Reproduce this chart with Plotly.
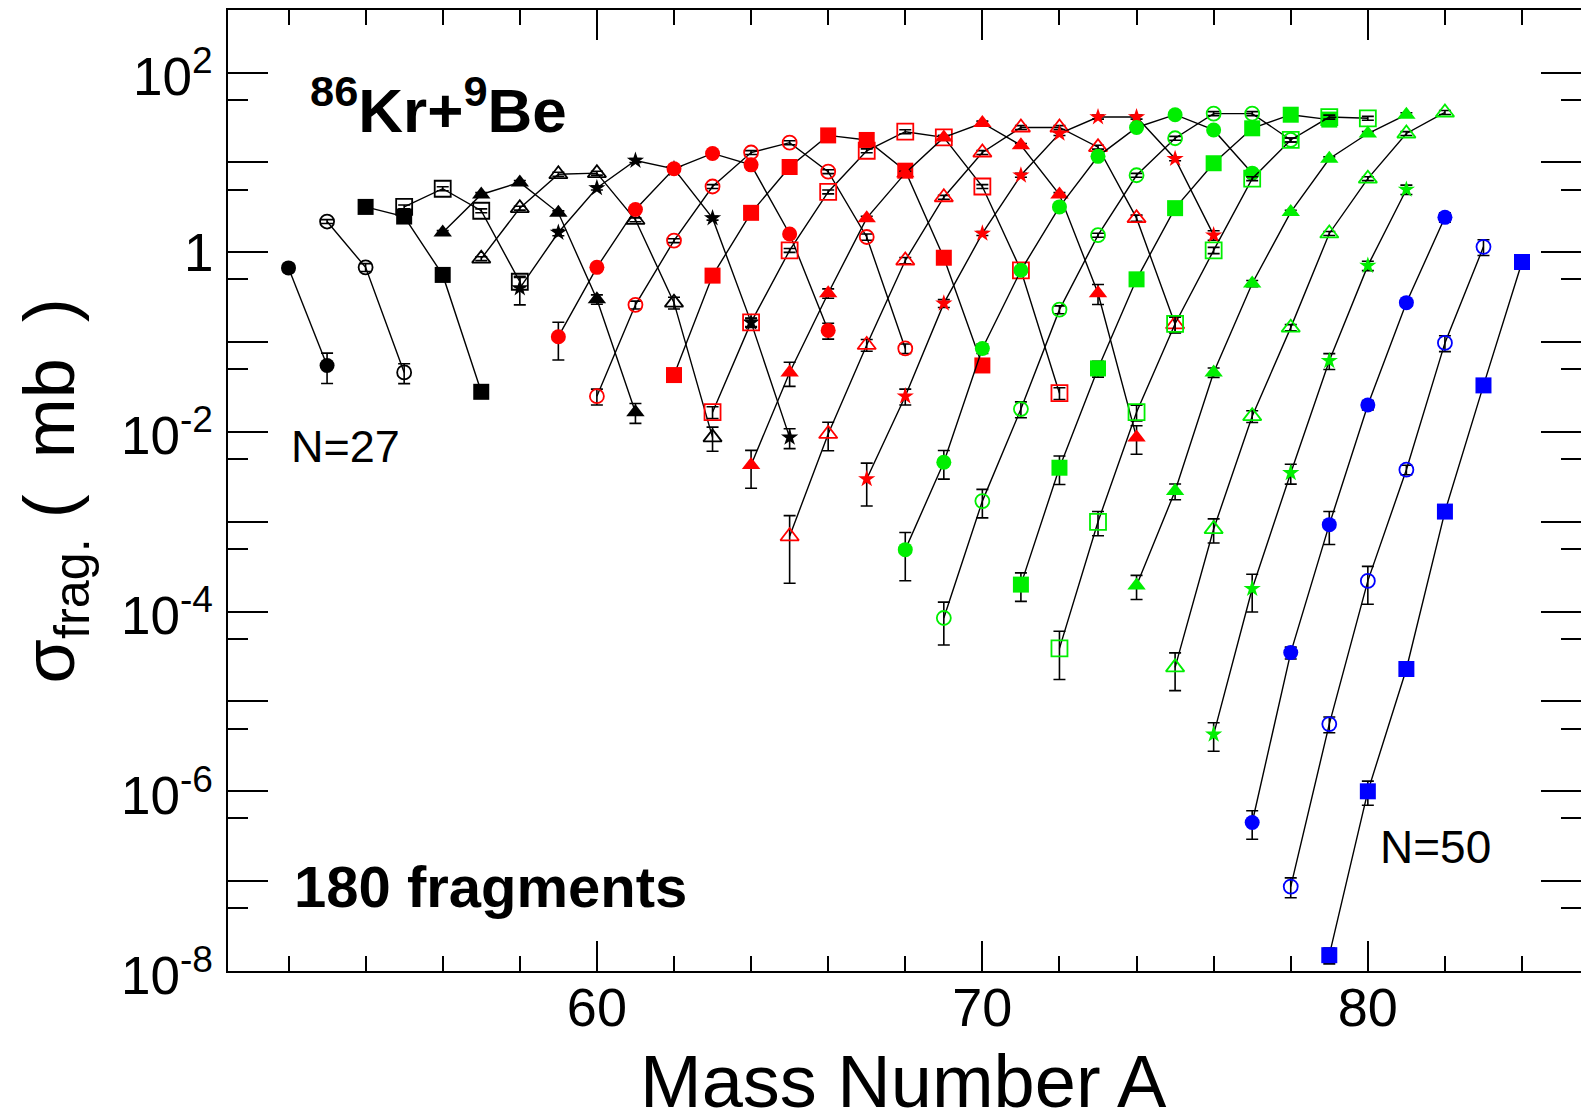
import plotly.graph_objects as go

# Isotonic chains N = 27 ... 50 of 86Kr + 9Be fragmentation cross sections (mb)
neutron_numbers = list(range(27, 51))
first_mass = [52, 53, 54, 55, 56, 57, 58, 59, 60, 62, 63, 64,
              65, 67, 68, 69, 71, 72, 74, 75, 76, 77, 78, 79]

sigma_n27 = [0.67, 0.055]
sigma_n28 = [2.2, 0.68, 0.046]
sigma_n29 = [3.2, 2.5, 0.56, 0.028]
sigma_n30 = [3.2, 5.1, 2.9, 0.47]
sigma_n31 = [1.66, 4.4, 6.0, 2.75, 0.30, 0.0166]
sigma_n32 = [0.85, 3.1, 7.4, 7.6, 2.3, 0.275, 0.0087]
sigma_n33 = [0.40, 1.66, 5.2, 10.5, 8.5, 2.4, 0.166, 0.0087]
sigma_n34 = [0.115, 0.68, 3.0, 8.5, 12.6, 9.4, 1.6, 0.135]
sigma_n35 = [0.025, 0.26, 1.35, 5.4, 12.9, 16.6, 7.9, 1.48, 0.085]
sigma_n36 = [0.043, 0.55, 2.75, 8.9, 20.0, 17.8, 8.1, 0.87, 0.055]
sigma_n37 = [0.0166, 0.166, 1.05, 4.7, 13.5, 22.0, 19.0, 5.4, 0.63, 0.027]
sigma_n38 = [0.0043, 0.046, 0.35, 2.4, 7.6, 19.0, 27.5, 15.5, 4.4, 0.35, 0.0087]
sigma_n39 = [0.00069, 0.0095, 0.093, 0.81, 4.1, 12.9, 24.5, 24.5, 14.8, 2.4, 0.158]
sigma_n40 = [0.0030, 0.025, 0.27, 1.62, 7.2, 21.0, 32.0, 32.0, 11.0, 1.55]
sigma_n41 = [0.00049, 0.0046, 0.085, 0.63, 3.2, 11.7, 24.5, 34.0, 23.0, 7.6]
sigma_n42 = [8.5e-5, 0.0017, 0.018, 0.23, 1.55, 7.2, 18.6, 35.0, 35.0, 17.8]
sigma_n43 = [0.0002, 0.004, 0.051, 0.50, 3.1, 9.8, 24.0, 34.0, 30.0]
sigma_n44 = [3.9e-5, 0.0010, 0.0166, 0.16, 1.05, 6.6, 17.8, 32.0, 31.0]
sigma_n45 = [0.000195, 0.0022, 0.046, 0.45, 2.8, 11.0, 21.0, 34.0]
sigma_n46 = [2.4e-5, 0.00083, 0.015, 0.145, 1.62, 6.6, 21.0, 36.0]
sigma_n47 = [4.3e-6, 0.00018, 0.0035, 0.062, 0.71, 5.0]
sigma_n48 = [4.5e-7, 3.5e-5, 0.00093, 0.020, 0.275, 2.45]
sigma_n49 = [8.7e-8, 5.6e-6, 0.00022, 0.0038, 0.098, 1.15]
sigma_n50 = [1.5e-8, 1.0e-6, 2.3e-5, 0.0013, 0.033, 0.78]

# relative uncertainties of each cross section
rel_err_n27 = [0.10, 0.37]
rel_err_n28 = [0.05, 0.10, 0.25]
rel_err_n29 = [0.05, 0.05, 0.08, 0.12]
rel_err_n30 = [0.05, 0.05, 0.05, 0.12]
rel_err_n31 = [0.05, 0.05, 0.05, 0.05, 0.12, 0.25]
rel_err_n32 = [0.05, 0.05, 0.05, 0.05, 0.05, 0.15, 0.30]
rel_err_n33 = [0.35, 0.08, 0.05, 0.05, 0.05, 0.05, 0.12, 0.25]
rel_err_n34 = [0.45, 0.08, 0.05, 0.05, 0.05, 0.05, 0.08, 0.20]
rel_err_n35 = [0.20, 0.10, 0.05, 0.05, 0.05, 0.05, 0.05, 0.08, 0.12]
rel_err_n36 = [0.10, 0.08, 0.05, 0.05, 0.05, 0.05, 0.05, 0.05, 0.10]
rel_err_n37 = [0.15, 0.10, 0.05, 0.05, 0.05, 0.05, 0.05, 0.05, 0.08, 0.15]
rel_err_n38 = [0.45, 0.30, 0.12, 0.05, 0.05, 0.05, 0.05, 0.05, 0.05, 0.25, 0.35]
rel_err_n39 = [0.70, 0.35, 0.15, 0.08, 0.05, 0.05, 0.05, 0.05, 0.05, 0.08, 0.20]
rel_err_n40 = [0.50, 0.20, 0.10, 0.05, 0.05, 0.05, 0.05, 0.05, 0.05, 0.12]
rel_err_n41 = [0.55, 0.35, 0.12, 0.08, 0.05, 0.05, 0.05, 0.05, 0.05, 0.05]
rel_err_n42 = [0.50, 0.35, 0.20, 0.10, 0.05, 0.05, 0.05, 0.05, 0.05, 0.05]
rel_err_n43 = [0.35, 0.35, 0.20, 0.10, 0.05, 0.05, 0.05, 0.05, 0.05]
rel_err_n44 = [0.55, 0.30, 0.20, 0.20, 0.08, 0.05, 0.05, 0.05, 0.05]
rel_err_n45 = [0.30, 0.20, 0.12, 0.08, 0.05, 0.05, 0.05, 0.05]
rel_err_n46 = [0.45, 0.30, 0.15, 0.08, 0.05, 0.05, 0.05, 0.05]
rel_err_n47 = [0.35, 0.45, 0.25, 0.20, 0.12, 0.12]
rel_err_n48 = [0.35, 0.15, 0.40, 0.12, 0.08, 0.12]
rel_err_n49 = [0.25, 0.20, 0.45, 0.12, 0.20, 0.20]
rel_err_n50 = [0.20, 0.30, 0.12, 0.12, 0.12, 0.12]

sigma_chains = [sigma_n27, sigma_n28, sigma_n29, sigma_n30, sigma_n31, sigma_n32,
                sigma_n33, sigma_n34, sigma_n35, sigma_n36, sigma_n37, sigma_n38,
                sigma_n39, sigma_n40, sigma_n41, sigma_n42, sigma_n43, sigma_n44,
                sigma_n45, sigma_n46, sigma_n47, sigma_n48, sigma_n49, sigma_n50]
err_chains = [rel_err_n27, rel_err_n28, rel_err_n29, rel_err_n30, rel_err_n31,
              rel_err_n32, rel_err_n33, rel_err_n34, rel_err_n35, rel_err_n36,
              rel_err_n37, rel_err_n38, rel_err_n39, rel_err_n40, rel_err_n41,
              rel_err_n42, rel_err_n43, rel_err_n44, rel_err_n45, rel_err_n46,
              rel_err_n47, rel_err_n48, rel_err_n49, rel_err_n50]

x_tick_major = [60, 70, 80]
x_tick_minor = [52, 54, 56, 58, 62, 64, 66, 68, 72, 74, 76, 78, 82, 84]
y_exponents = list(range(-8, 3))
y_label_exponents = [-8, -6, -4, -2, 0, 2]

# marker cycle: 7 symbols per colour group
SYMBOLS = ['circle', 'circle-open', 'square', 'square-open',
           'triangle-up', 'triangle-up-open', 'star']
SIZES = [15, 14, 16, 16, 16, 16, 13]
GROUP_COLORS = ['#000000', '#ff0000', '#00ee00', '#0000ff']

FONT = 'Arial, Liberation Sans, sans-serif'

fig = go.Figure()

for i, (n, a0, sig, err) in enumerate(zip(neutron_numbers, first_mass, sigma_chains, err_chains)):
    masses = list(range(a0, a0 + len(sig)))
    sym = SYMBOLS[i % 7]
    col = GROUP_COLORS[i // 7]
    is_open = sym.endswith('-open')
    fig.add_trace(go.Scatter(
        x=masses, y=sig, mode='lines+markers', name=f'N={n}',
        line=dict(color='black', width=1.4),
        marker=dict(symbol=sym, size=SIZES[i % 7], color=col,
                    line=dict(color=col, width=1.8 if is_open else 0)),
        error_y=dict(type='data', symmetric=False,
                     array=[s * e for s, e in zip(sig, err)],
                     arrayminus=[s * e for s, e in zip(sig, err)],
                     color='black', thickness=1.6, width=6),
        showlegend=False, hoverinfo='x+y+name',
    ))

# carrier for the tick marks drawn on the right-hand edge
fig.add_trace(go.Scatter(x=[70], y=[1], yaxis='y2', mode='markers',
                         marker=dict(opacity=0), hoverinfo='skip', showlegend=False))

y_tickvals = [10.0 ** k for k in y_exponents]
y_minor = [5 * 10.0 ** k for k in range(-8, 2)]

Y_RANGE = [-8, 2.697]

yaxis_common = dict(
    type='log', range=Y_RANGE, tickmode='array', tickvals=y_tickvals,
    ticks='inside', ticklen=40, tickwidth=2, tickcolor='black',
    minor=dict(tickmode='array', tickvals=y_minor, ticks='inside',
               ticklen=20, tickwidth=2, tickcolor='black'),
    showgrid=False, zeroline=False, showticklabels=False,
)

fig.update_layout(
    width=1581, height=1117,
    margin=dict(l=228, r=0, t=10, b=146),
    paper_bgcolor='white', plot_bgcolor='white',
    font=dict(family=FONT, color='black'),
    xaxis=dict(
        range=[50.43, 85.53], tickmode='array', tickvals=x_tick_major,
        ticks='inside', ticklen=30, tickwidth=2, tickcolor='black',
        minor=dict(tickmode='array', tickvals=x_tick_minor, ticks='inside',
                   ticklen=15, tickwidth=2, tickcolor='black'),
        showline=True, linewidth=2, linecolor='black', mirror='ticks',
        showgrid=False, zeroline=False,
        tickfont=dict(size=54, family=FONT), ticklabelstandoff=-12,
    ),
    yaxis=dict(**yaxis_common, showline=True, linewidth=2, linecolor='black'),
    yaxis2=dict(**yaxis_common, overlaying='y', side='right', anchor='x',
                showline=False),
)

# decade labels of the cross-section axis, each label box centred on its tick
for k in y_label_exponents:
    label = '1' if k == 0 else f'10<sup>{k}</sup>'
    fig.add_annotation(text=label, xref='paper', yref='y', x=0, y=k,
                       xanchor='right', yanchor='middle', xshift=-13,
                       showarrow=False, font=dict(size=53, family=FONT))

annotations = [
    dict(text='<b><sup>86</sup>Kr+<sup>9</sup>Be</b>', x=0.0591, y=0.900,
         font=dict(size=62)),
    dict(text='<b>180 fragments</b>', x=0.0470, y=0.0880, font=dict(size=58)),
    dict(text='N=27', x=0.045, y=0.546, font=dict(size=45)),
    dict(text='N=50', x=0.8500, y=0.1290, font=dict(size=46)),
]
for ann in annotations:
    fig.add_annotation(xref='paper', yref='paper', xanchor='left', yanchor='middle',
                       showarrow=False, font_family=FONT, **ann)

# axis titles
fig.add_annotation(text='Mass Number A', xref='paper', yref='paper',
                   x=0.4993, y=-0.1145, xanchor='center', yanchor='middle',
                   showarrow=False, font=dict(size=74, family=FONT))
fig.add_annotation(text='σ<sub>frag.</sub> (\u2002mb\u2002)', xref='paper', yref='paper',
                   x=-0.1286, y=0.4990, xanchor='center', yanchor='middle',
                   textangle=-90, showarrow=False, font=dict(size=72, family=FONT))

fig.write_html('out.html')
